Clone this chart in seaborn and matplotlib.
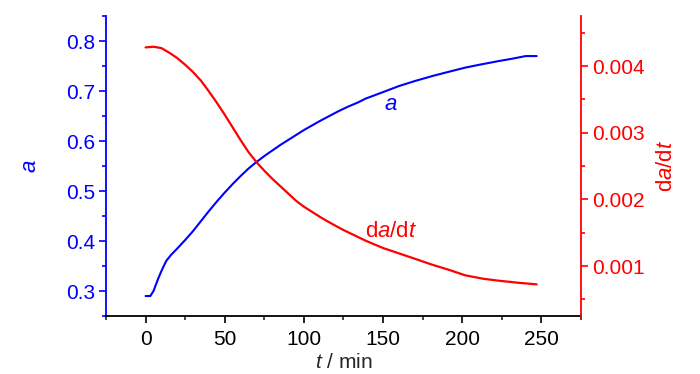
import matplotlib
matplotlib.use('Agg')
import matplotlib.pyplot as plt
import seaborn as sns
from matplotlib.ticker import MultipleLocator, FormatStrFormatter

# data
t_a = [0, 3, 5, 8, 10, 13, 16, 20, 25, 30, 35, 40, 45, 50, 55, 60, 65, 70, 75, 80, 85, 90,
       95, 100, 105, 110, 116, 122, 128, 134, 139, 145, 150, 155, 160, 170, 181, 192, 202,
       213, 223, 232, 240, 247]
a_vals = [0.29, 0.29, 0.30, 0.325, 0.34, 0.36, 0.372, 0.385, 0.402, 0.42, 0.44, 0.460,
          0.479, 0.497, 0.514, 0.530, 0.545, 0.558, 0.570, 0.581, 0.592, 0.602, 0.612,
          0.622, 0.631, 0.640, 0.650, 0.660, 0.669, 0.677, 0.685, 0.692, 0.698, 0.704,
          0.710, 0.720, 0.730, 0.739, 0.747, 0.754, 0.760, 0.765, 0.770, 0.770]

t_r = [0, 5, 10, 15, 20, 25, 30, 35, 40, 45, 50, 55, 60, 65, 70, 75, 80, 85, 90, 95, 100,
       106, 112, 118, 125, 132, 139, 145, 150, 160, 170, 181, 192, 202, 213, 223, 235, 247]
r_vals = [0.00428, 0.00429, 0.00427, 0.00420, 0.00412, 0.00402, 0.00391, 0.00378, 0.00362,
          0.00345, 0.00327, 0.00308, 0.00289, 0.00271, 0.00256, 0.00243, 0.00231, 0.00220,
          0.00209, 0.00198, 0.00189, 0.00180, 0.00171, 0.00163, 0.00154, 0.00146, 0.00138,
          0.00132, 0.00127, 0.00119, 0.00111, 0.00102, 0.00094, 0.00086, 0.00081, 0.00078,
          0.00075, 0.000725]

sns.set_style('ticks')
plt.rcParams['font.family'] = ['Liberation Sans', 'DejaVu Sans']
plt.rcParams['mathtext.fontset'] = 'custom'
plt.rcParams['mathtext.rm'] = 'Liberation Sans'
plt.rcParams['mathtext.it'] = 'Liberation Sans:italic'

blue = '#0000FF'
red = '#FF0000'
fs = 15

fig = plt.figure(figsize=(7, 3.74), dpi=100)
ax = fig.add_axes([0.1514, 0.155, 0.6786, 0.802])
ax2 = ax.twinx()

sns.lineplot(x=t_a, y=a_vals, ax=ax, color=blue, linewidth=1.5)
sns.lineplot(x=t_r, y=r_vals, ax=ax2, color=red, linewidth=1.6)

ax.set_xlim(-25, 275)
ax.set_ylim(0.25, 0.85)
ax2.set_ylim(0.00025, 0.00475)

ax.xaxis.set_major_locator(MultipleLocator(50))
ax.xaxis.set_minor_locator(MultipleLocator(25))
ax.yaxis.set_major_locator(MultipleLocator(0.1))
ax.yaxis.set_minor_locator(MultipleLocator(0.05))
ax2.yaxis.set_major_locator(MultipleLocator(0.001))
ax2.yaxis.set_minor_locator(MultipleLocator(0.0005))
ax.yaxis.set_major_formatter(FormatStrFormatter('%.1f'))
ax2.yaxis.set_major_formatter(FormatStrFormatter('%.3f'))

for a_ in (ax, ax2):
    a_.spines['top'].set_visible(False)
    for s in a_.spines.values():
        s.set_linewidth(1.3)

ax.spines['right'].set_visible(False)
ax.spines['left'].set_color(blue)
ax.spines['bottom'].set_color('black')
ax2.spines['left'].set_visible(False)
ax2.spines['bottom'].set_visible(False)
ax2.spines['right'].set_color(red)

ax.tick_params(axis='x', which='major', length=5, width=1.2, labelsize=fs, colors='black', pad=5)
ax.tick_params(axis='x', which='minor', length=3, width=1.2)
ax.tick_params(axis='y', which='major', length=5, width=1.2, labelsize=fs, colors=blue, pad=3)
ax.tick_params(axis='y', which='minor', length=3, width=1.2, colors=blue)
ax2.tick_params(axis='y', which='major', length=5, width=1.2, labelsize=fs, colors=red, pad=3)
ax2.tick_params(axis='y', which='minor', length=3, width=1.2, colors=red)

ax.set_xlabel(r'$\mathit{t}$ / min', fontsize=15, labelpad=3)
ax.set_ylabel(r'$\mathit{a}$', fontsize=16, color=blue, labelpad=18)
ax2.set_ylabel(r'd$\mathit{a}$/d$\mathit{t}$', fontsize=16, color=red, labelpad=8)

ax.text(155, 0.674, r'$\mathit{a}$', color=blue, fontsize=16, ha='center', va='center')
ax2.text(155, 0.00152, r'd$\mathit{a}$/d$\mathit{t}$', color=red, fontsize=16,
         ha='center', va='center')

fig.savefig('out.png', dpi=100)
